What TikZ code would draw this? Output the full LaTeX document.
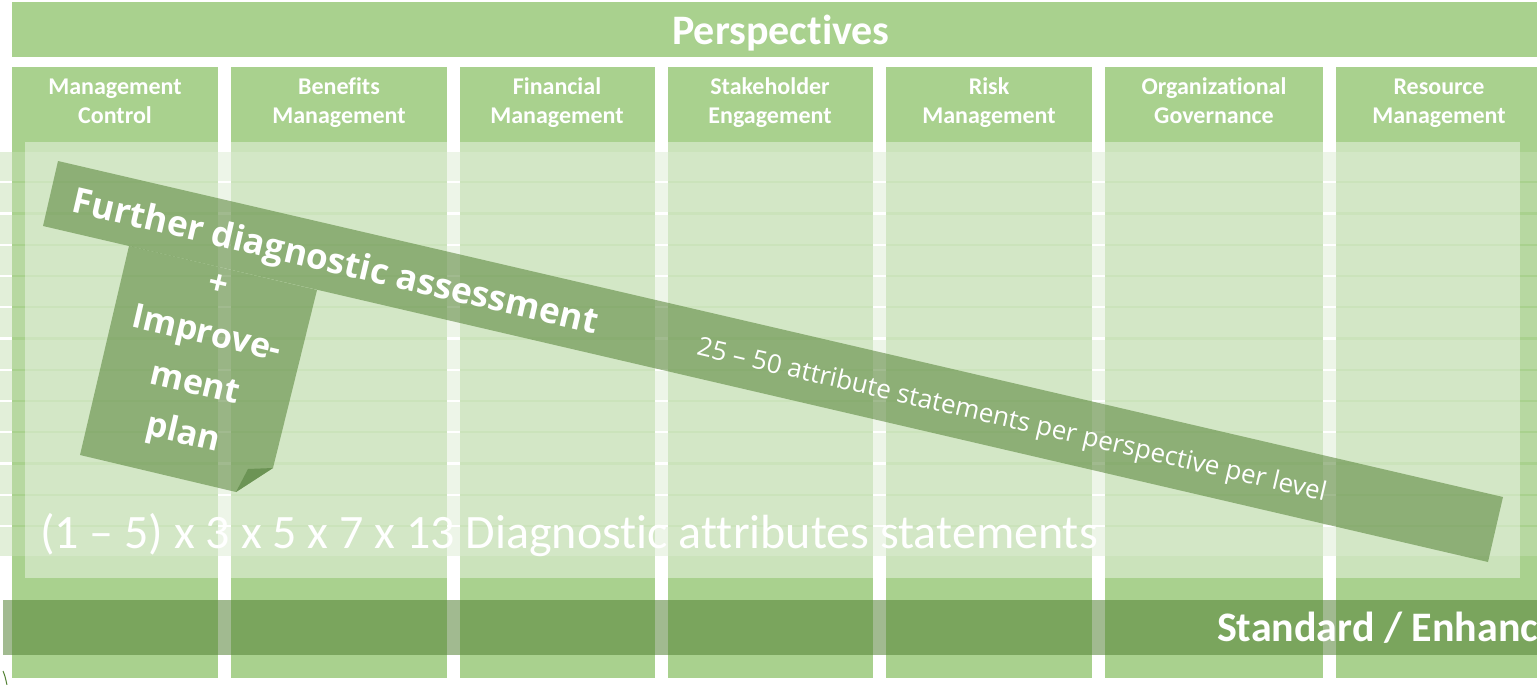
\documentclass[tikz,border=0pt]{standalone}
\usepackage{xcolor}
\usepackage{fontspec}
\setmainfont{Carlito}[Ligatures={TeX,NoCommon}]
\newfontfamily\ribbonfont{Open Sans}
\usepackage{tikz}
\usetikzlibrary{positioning}

\definecolor{colgreen}{HTML}{A9D18E}
\definecolor{rowgreen}{HTML}{C5E0B4}
\definecolor{darkgreen}{HTML}{548235}
\definecolor{foldgreen}{HTML}{6C9455}

\begin{document}
\begin{tikzpicture}[x=0.5pt,y=-0.5pt]
    \tikzset{column/.style = {fill=colgreen}}
    \tikzset{row/.style = {fill=rowgreen,fill opacity=0.5}}
    \tikzset{band/.style = {fill=darkgreen,fill opacity=0.55}}
    \tikzset{title/.style = {text=white,font=\bfseries\fontsize{21}{25}\selectfont}}
    \tikzset{header/.style = {text=white,align=center,font=\bfseries\fontsize{12}{14.5}\selectfont}}
    \tikzset{ribbontext/.style = {text=white,rotate=-13.1}}
    \useasboundingbox (0,0) rectangle (1537,685);
    \clip (0,0) rectangle (1537,685);
    % banner and columns
    \fill[column] (12,2) rectangle (1550,57);
    \fill[column] (12,67) rectangle (218,678);
    \fill[column] (231,67) rectangle (447,678);
    \fill[column] (460,67) rectangle (655,678);
    \fill[column] (668,67) rectangle (873,678);
    \fill[column] (886,67) rectangle (1092,678);
    \fill[column] (1105,67) rectangle (1323,678);
    \fill[column] (1336,67) rectangle (1550,678);
    \node[title,anchor=base] (persp) at (781,44) {Perspectives};
    % headers
    \node[header] (mc) at (115,103) {Management\\Control\vphantom{g}};
    \node[header] (bm) at (339,103) {Benefits\\Management};
    \node[header] (fm) at (557,103) {Financial\\Management};
    \node[header] (se) at (770,103) {Stakeholder\\Engagement};
    \node[header] (rm) at (989,103) {Risk\\Management};
    \node[header] (og) at (1214,103) {Organizational\\Governance\vphantom{g}};
    \node[header] (rs) at (1439,103) {Resource\\Management};
    % rows
    \fill[row] (0,152) rectangle (1537,181);
    \fill[row] (0,183) rectangle (1537,212);
    \fill[row] (0,215) rectangle (1537,244);
    \fill[row] (0,246) rectangle (1537,275);
    \fill[row] (0,277) rectangle (1537,306);
    \fill[row] (0,308) rectangle (1537,337);
    \fill[row] (0,340) rectangle (1537,369);
    \fill[row] (0,371) rectangle (1537,400);
    \fill[row] (0,402) rectangle (1537,431);
    \fill[row] (0,433) rectangle (1537,462);
    \fill[row] (0,465) rectangle (1537,494);
    \fill[row] (0,496) rectangle (1537,525);
    \fill[row] (0,527) rectangle (1537,556);
    \fill[white,fill opacity=0.4] (25,142) rectangle (1520,578);
    \node[text=white,anchor=base west,font=\fontsize{24}{28}\selectfont] (attr) at (33,548)
        {(1 – 5) x 3 x 5 x 7 x 13 Diagnostic attributes statements};
    % diagonal band and ribbon
    \fill[band] (58,161) -- (1503,497) -- (1488,562) -- (43,226) -- cycle;
    \fill[band] (129,246) -- (317,290) -- (273,468) -- (236,492) -- (80,455) -- cycle;
    \fill[foldgreen] (236,492) -- (248,469) -- (273,468) -- cycle;
    \node[ribbontext,anchor=base,font=\ribbonfont\bfseries\fontsize{17.6}{21}\selectfont] (further) at (333,273)
        {Further diagnostic assessment};
    \node[ribbontext,anchor=base,font=\ribbonfont\fontsize{13}{16}\selectfont] (stmts) at (1010,428)
        {25 – 50 attribute statements per perspective per level};
    \node[ribbontext,align=center,font=\ribbonfont\bfseries\fontsize{17}{25.5}\selectfont] (plan) at (200,363)
        {+\\Improve-\\ment\\plan};
    % bottom band
    \fill[band] (3,600) rectangle (1550,655);
    \node[title,anchor=base west] (std) at (1210,641) {Standard / Enhanced};
    \draw[darkgreen,line width=0.5pt] (3,671) .. controls (5,676) .. (7,685);
\end{tikzpicture}
\end{document}
